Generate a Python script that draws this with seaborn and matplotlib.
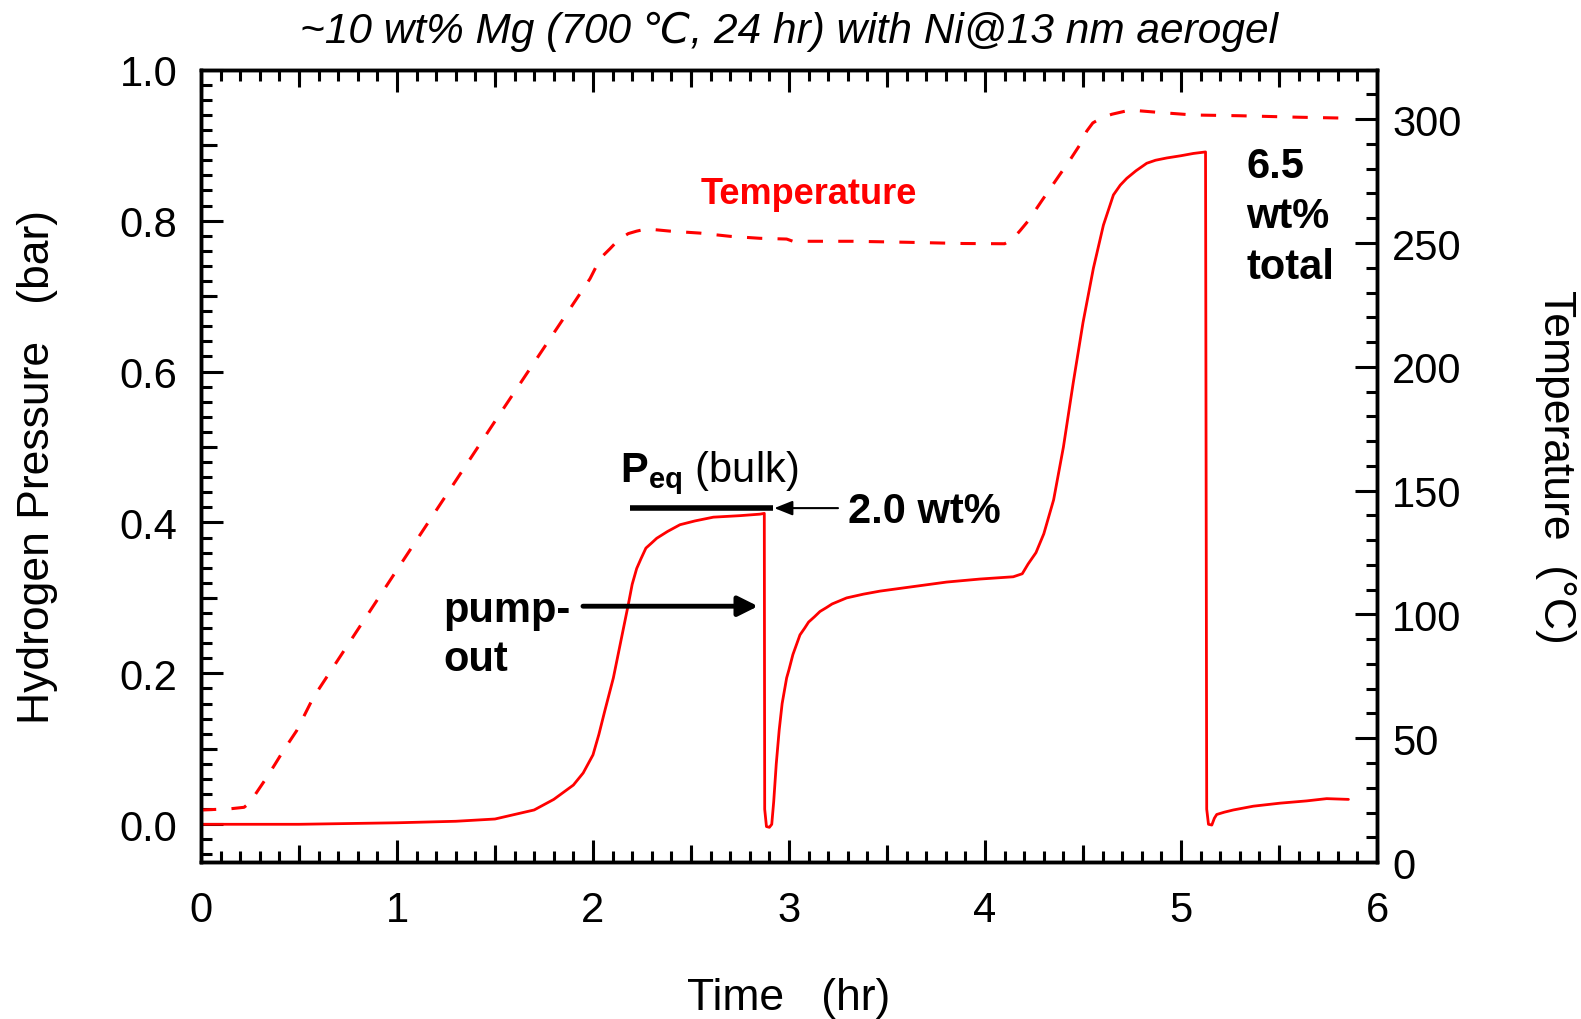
import numpy as np
import pandas as pd
import matplotlib
matplotlib.use("Agg")
import matplotlib.pyplot as plt
from matplotlib.ticker import MultipleLocator, FormatStrFormatter
import seaborn as sns

# Pressure trace (hr, bar)
time_p = [0.0, 0.5, 1.0, 1.3, 1.5, 1.7, 1.8, 1.9, 1.95, 2.0, 2.03, 2.06, 2.08, 2.104,
          2.14, 2.18, 2.2, 2.223, 2.245, 2.27, 2.3, 2.325, 2.38, 2.444, 2.52, 2.614,
          2.75, 2.852, 2.874,
          2.876, 2.885, 2.90, 2.912, 2.922, 2.935, 2.95, 2.965, 2.988, 3.0, 3.02, 3.056,
          3.08, 3.10, 3.13, 3.158, 3.19, 3.22, 3.294, 3.38, 3.464, 3.634, 3.804, 3.974,
          4.144, 4.19, 4.22, 4.26, 4.30, 4.35, 4.40, 4.45, 4.50, 4.553, 4.604, 4.655,
          4.69, 4.723, 4.77, 4.825, 4.87, 4.927, 5.0, 5.063, 5.125, 5.131, 5.14, 5.157,
          5.17, 5.182, 5.22, 5.267, 5.369, 5.505, 5.641, 5.743, 5.854]
pressure = [0.0, 0.0, 0.002, 0.004, 0.007, 0.019, 0.033, 0.052, 0.068, 0.092, 0.119,
            0.15, 0.17, 0.194, 0.24, 0.291, 0.318, 0.339, 0.352, 0.366, 0.373, 0.379,
            0.388, 0.397, 0.402, 0.407, 0.409, 0.411, 0.412,
            0.02, -0.003, -0.004, 0.0, 0.03, 0.08, 0.125, 0.16, 0.194, 0.205, 0.225,
            0.251, 0.26, 0.268, 0.275, 0.282, 0.287, 0.292, 0.300, 0.305, 0.309, 0.315,
            0.321, 0.325, 0.328, 0.332, 0.345, 0.36, 0.385, 0.43, 0.50, 0.585, 0.665,
            0.737, 0.794, 0.834, 0.847, 0.856, 0.866, 0.876, 0.880, 0.883, 0.886, 0.889,
            0.891, 0.02, 0.0, -0.001, 0.008, 0.013, 0.016, 0.019, 0.024, 0.028, 0.031,
            0.034, 0.033]

# Temperature trace (hr, degC)
time_t = [0.0, 0.15, 0.22, 0.25, 0.284, 0.33, 0.378, 0.42, 0.488, 0.573, 1.0, 1.5,
          1.985, 2.019, 2.05, 2.087, 2.129, 2.18, 2.223, 2.274, 2.393, 2.546, 2.699,
          2.852, 2.988, 3.02, 3.327, 3.6, 3.888, 4.10, 4.14, 4.179, 4.221, 4.289, 4.383,
          4.425, 4.485, 4.519, 4.55, 4.596, 4.647, 4.74, 4.893, 5.063, 5.3, 5.6, 5.86]
temperature = [21.0, 21.5, 22.1, 24.0, 28.1, 33.5, 39.5, 44.9, 53.0, 66.4, 118, 178,
               235.6, 240.9, 244.8, 247.7, 251.2, 253.8, 254.8, 255.7, 254.8, 254.0,
               252.7, 251.9, 251.6, 250.7, 250.7, 250.3, 249.8, 249.7, 251.5, 255.0,
               259.0, 267.0, 277.8, 282.5, 289.8, 295.2, 298.5, 300.6, 302.0, 303.7,
               302.7, 301.7, 301.4, 300.8, 300.4]

# annotation anchors (data units of the pressure axis)
peq_span = [2.19, 2.918]
peq_level = 0.419
pump_arrow = [1.949, 2.842]
pump_level = 0.289
wt_arrow = [3.25, 2.925]

df_p = pd.DataFrame({"Time": time_p, "Pressure": pressure})
df_t = pd.DataFrame({"Time": time_t, "Temperature": temperature})

sns.set_theme(style="white")
plt.rcParams['font.family'] = ['Liberation Sans', 'DejaVu Sans']
plt.rcParams['mathtext.fontset'] = 'custom'
plt.rcParams['mathtext.rm'] = 'Liberation Sans'
plt.rcParams['mathtext.bf'] = 'Liberation Sans:bold'
for key in ('text.color', 'axes.labelcolor', 'xtick.color', 'ytick.color'):
    plt.rcParams[key] = 'black'

fig = plt.figure(figsize=(15.81, 10.20), dpi=100)
ax = fig.add_axes([0.1271, 0.1539, 0.7439, 0.7768])

sns.lineplot(data=df_p, x="Time", y="Pressure", ax=ax, color="#ff0000", lw=2,
             sort=False, estimator=None)
ax.set_xlim(0, 6)
ax.set_ylim(-0.05, 1.0)

ax2 = ax.twinx()
sns.lineplot(data=df_t, x="Time", y="Temperature", ax=ax2, color="#ff0000", lw=2.2,
             sort=False, estimator=None, dashes=False, linestyle=(0, (5, 5)))
ax2.set_ylim(0, 320)

# spines and ticks
for a in (ax, ax2):
    for s in a.spines.values():
        s.set_linewidth(2.5)
        s.set_color("black")

ax.xaxis.set_major_locator(MultipleLocator(1))
ax.xaxis.set_minor_locator(MultipleLocator(0.1))
ax.yaxis.set_major_locator(MultipleLocator(0.2))
ax.yaxis.set_minor_locator(MultipleLocator(0.02))
ax.yaxis.set_major_formatter(FormatStrFormatter('%.1f'))
ax.tick_params(axis='x', which='both', direction='in', top=True, bottom=True, width=2.2)
ax.tick_params(axis='y', which='both', direction='in', left=True, right=False, width=2.2)
ax.tick_params(which='major', length=16, labelsize=30)
ax.tick_params(which='minor', length=8)
ax.tick_params(axis='x', pad=20)
ax.tick_params(axis='y', pad=17)

ax2.yaxis.set_major_locator(MultipleLocator(50))
ax2.yaxis.set_minor_locator(MultipleLocator(10))
ax2.tick_params(axis='y', which='both', direction='in', right=True, left=False, width=2.2)
ax2.tick_params(axis='y', which='major', length=16, labelsize=30, pad=11)
ax2.tick_params(axis='y', which='minor', length=8)

# medium ticks at the half steps
for loc in ('bottom', 'top'):
    sec = ax.secondary_xaxis(loc)
    sec.set_xticks(np.arange(0.5, 6, 1.0))
    sec.tick_params(direction='in', length=12, width=2.2, labelbottom=False, labeltop=False)
    sec.spines[loc].set_visible(False)
secy = ax.secondary_yaxis('left')
secy.set_yticks(np.arange(0.1, 1.0, 0.2))
secy.tick_params(direction='in', length=11.5, width=2.2, labelleft=False)
secy.spines['left'].set_visible(False)

ax.set_xlabel("Time   (hr)", fontsize=32, labelpad=34)
ax.set_ylabel("Hydrogen Pressure   (bar)", fontsize=32, labelpad=44)
ax2.set_ylabel("Temperature  (°C)", fontsize=32, rotation=270, labelpad=82)
ax.set_title("~10 wt% Mg (700 \u2103, 24 hr) with Ni@13 nm aerogel", fontsize=30.5,
             fontstyle='italic', pad=20)

# annotations
ax.plot(peq_span, [peq_level, peq_level], color="black", lw=4, solid_capstyle='butt')
ax.text(2.138, 0.455, r"$\mathbf{P_{eq}}$ (bulk)", fontsize=30, va='baseline')
ax.annotate("", xy=(wt_arrow[1], peq_level), xytext=(wt_arrow[0], peq_level),
            arrowprops=dict(arrowstyle='-|>,head_length=0.55,head_width=0.22',
                            lw=1.5, color='black', mutation_scale=20, shrinkA=0, shrinkB=0))
ax.text(3.30, 0.415, "2.0 wt%", fontsize=30, fontweight='bold', va='center')

ax.annotate("", xy=(pump_arrow[1], pump_level), xytext=(pump_arrow[0], pump_level),
            arrowprops=dict(arrowstyle='-|>,head_length=0.6,head_width=0.3',
                            lw=3.5, color='black', mutation_scale=20, shrinkA=0, shrinkB=0))
ax.text(1.236, 0.269, "pump-", fontsize=30, fontweight='bold', va='baseline')
ax.text(1.236, 0.205, "out", fontsize=30, fontweight='bold', va='baseline')

ax.text(3.102, 0.836, "Temperature", fontsize=26, fontweight='bold', color="#ff0000",
        ha='center', va='center')

ax.text(5.332, 0.858, "6.5", fontsize=30, fontweight='bold', va='baseline')
ax.text(5.332, 0.792, "wt%", fontsize=30, fontweight='bold', va='baseline')
ax.text(5.332, 0.7236, "total", fontsize=30, fontweight='bold', va='baseline')

fig.savefig("out.png", dpi=100)
